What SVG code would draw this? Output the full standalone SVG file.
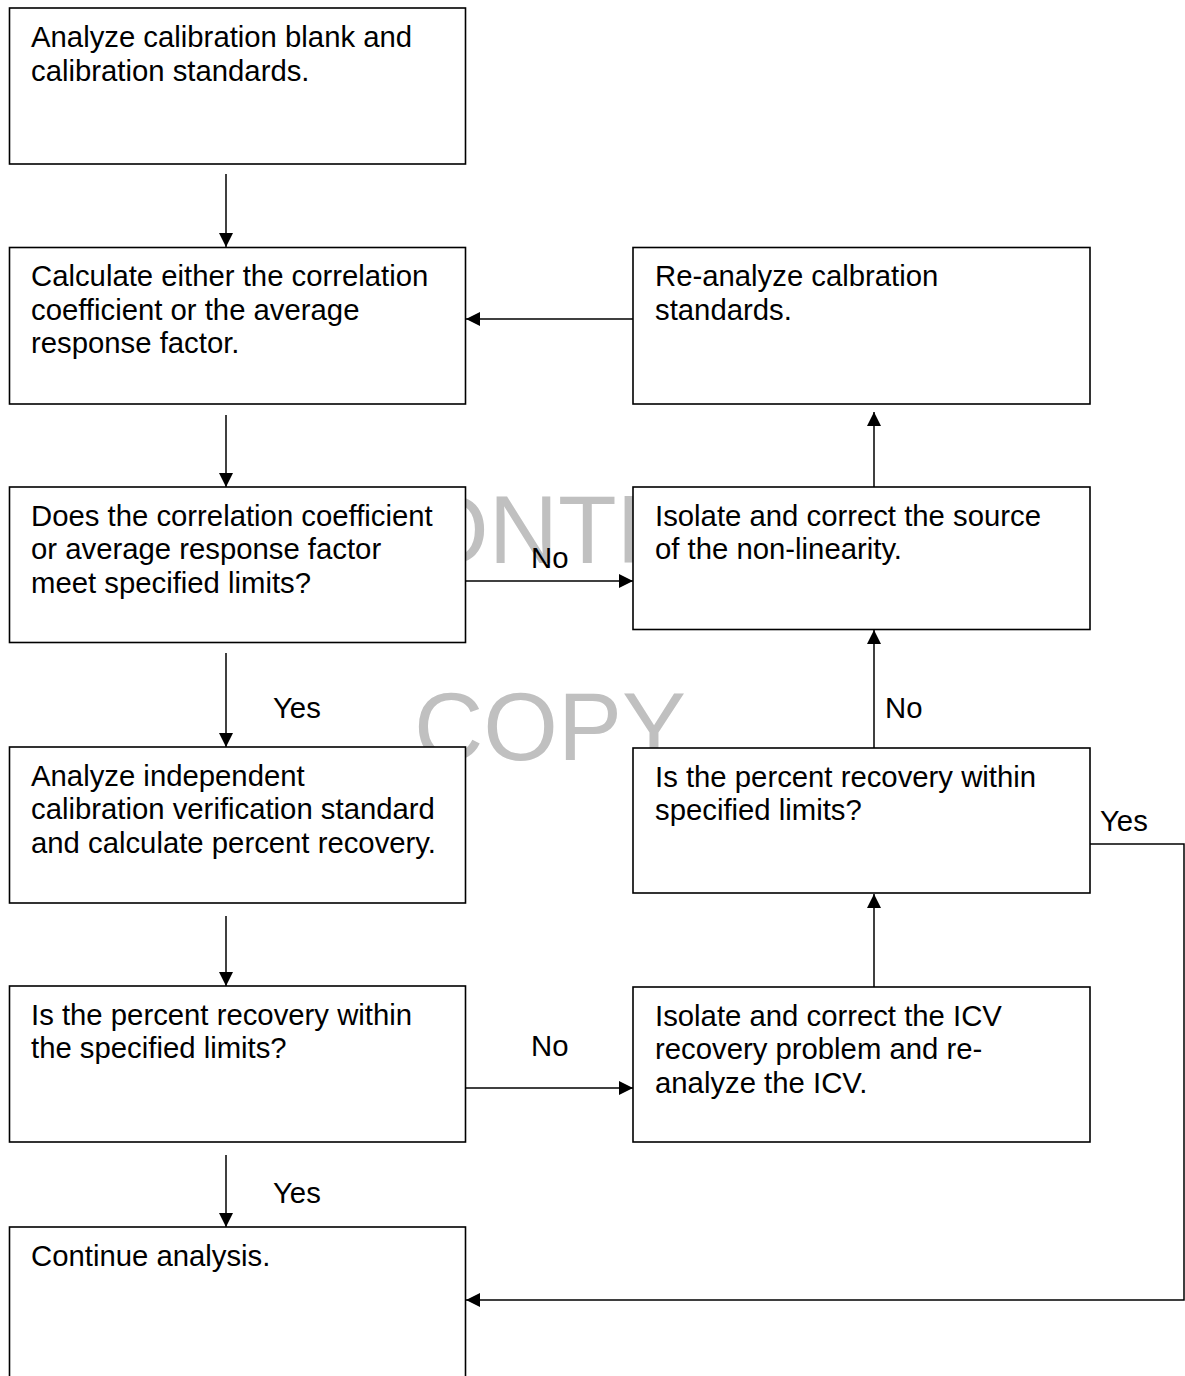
<svg xmlns="http://www.w3.org/2000/svg" width="1185" height="1376" viewBox="0 0 1185 1376">
<style>
.box{fill:#fff;stroke:#000;stroke-width:1.6}
.t{font-family:"Liberation Sans",Arial,sans-serif;font-size:29.3px;fill:#000}
.wm{font-family:"Liberation Sans",Arial,sans-serif;font-size:96px;fill:#c0c0c0}
.c{fill:none;stroke:#000;stroke-width:1.5}
</style>
<defs>
<marker id="ah" markerUnits="userSpaceOnUse" markerWidth="15" markerHeight="15" refX="14" refY="7" orient="auto">
<path d="M0,0 L14,7 L0,14 z" fill="#000"/>
</marker>
<clipPath id="gap"><rect x="466" y="480" width="167" height="100"/></clipPath>
</defs>
<rect width="1185" height="1376" fill="#fff"/>
<g id="watermark">
<text class="wm" x="414" y="563" clip-path="url(#gap)">ONTR</text>
<text class="wm" x="414" y="760">COPY</text>
</g>
<g id="n1"><rect class="box" x="9.5" y="8" width="456" height="156"/>
<text class="t" x="31" y="47">Analyze calibration blank and</text>
<text class="t" x="31" y="80.7">calibration standards.</text></g>
<g id="n2"><rect class="box" x="9.5" y="247.5" width="456" height="156.5"/>
<text class="t" x="31" y="286">Calculate either the correlation</text>
<text class="t" x="31" y="319.7">coefficient or the average</text>
<text class="t" x="31" y="353.4">response factor.</text></g>
<g id="n3"><rect class="box" x="9.5" y="487" width="456" height="155.5"/>
<text class="t" x="31" y="525.5">Does the correlation coefficient</text>
<text class="t" x="31" y="559.2">or average response factor</text>
<text class="t" x="31" y="592.9">meet specified limits?</text></g>
<g id="n4"><rect class="box" x="9.5" y="747" width="456" height="156"/>
<text class="t" x="31" y="785.5">Analyze independent</text>
<text class="t" x="31" y="819.2">calibration verification standard</text>
<text class="t" x="31" y="852.9">and calculate percent recovery.</text></g>
<g id="n5"><rect class="box" x="9.5" y="986" width="456" height="156"/>
<text class="t" x="31" y="1024.5">Is the percent recovery within</text>
<text class="t" x="31" y="1058.2">the specified limits?</text></g>
<g id="n6"><rect class="box" x="9.5" y="1227" width="456" height="170"/>
<text class="t" x="31" y="1266">Continue analysis.</text></g>
<g id="r1"><rect class="box" x="633" y="247.5" width="457" height="156.5"/>
<text class="t" x="655" y="286">Re-analyze calbration</text>
<text class="t" x="655" y="319.7">standards.</text></g>
<g id="r2"><rect class="box" x="633" y="487" width="457" height="142.5"/>
<text class="t" x="655" y="525.5">Isolate and correct the source</text>
<text class="t" x="655" y="559.2">of the non-linearity.</text></g>
<g id="r3"><rect class="box" x="633" y="748" width="457" height="145"/>
<text class="t" x="655" y="786.5">Is the percent recovery within</text>
<text class="t" x="655" y="820.2">specified limits?</text></g>
<g id="r4"><rect class="box" x="633" y="987" width="457" height="155"/>
<text class="t" x="655" y="1025.5">Isolate and correct the ICV</text>
<text class="t" x="655" y="1059.2">recovery problem and re-</text>
<text class="t" x="655" y="1092.9">analyze the ICV.</text></g>
<g id="connectors">
<line class="c" x1="226" y1="174" x2="226" y2="247" marker-end="url(#ah)"/>
<line class="c" x1="226" y1="415" x2="226" y2="487" marker-end="url(#ah)"/>
<line class="c" x1="226" y1="653" x2="226" y2="747" marker-end="url(#ah)"/>
<line class="c" x1="226" y1="916" x2="226" y2="986" marker-end="url(#ah)"/>
<line class="c" x1="226" y1="1155" x2="226" y2="1227" marker-end="url(#ah)"/>
<line class="c" x1="633" y1="319" x2="466" y2="319" marker-end="url(#ah)"/>
<line class="c" x1="466" y1="581" x2="633" y2="581" marker-end="url(#ah)"/>
<line class="c" x1="466" y1="1088" x2="633" y2="1088" marker-end="url(#ah)"/>
<line class="c" x1="874" y1="487" x2="874" y2="412" marker-end="url(#ah)"/>
<line class="c" x1="874" y1="748" x2="874" y2="630" marker-end="url(#ah)"/>
<line class="c" x1="874" y1="987" x2="874" y2="894" marker-end="url(#ah)"/>
<polyline class="c" points="1090,844 1184,844 1184,1300 466,1300" marker-end="url(#ah)"/>
<text class="t" x="531" y="568">No</text>
<text class="t" x="531" y="1056">No</text>
<text class="t" x="885" y="718">No</text>
<text class="t" x="273" y="718">Yes</text>
<text class="t" x="273" y="1203">Yes</text>
<text class="t" x="1100" y="831">Yes</text>
</g>
</svg>
